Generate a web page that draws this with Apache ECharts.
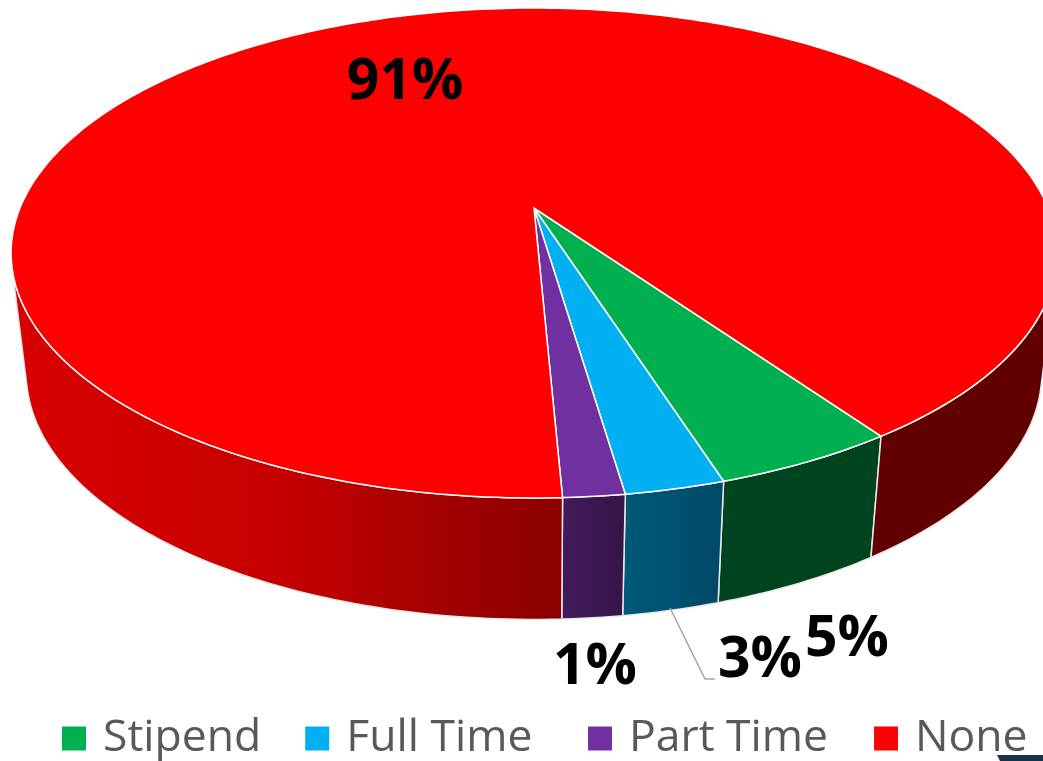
<!DOCTYPE html>
<html><head><meta charset="utf-8">
<style>html,body{margin:0;padding:0;background:#fff}#c{width:1043px;height:761px}</style>
<script src="https://cdn.jsdelivr.net/npm/echarts@6/dist/echarts.min.js"></script>
</head><body><div id="c"></div>
<script>
// Data
const categories = ['Stipend', 'Full Time', 'Part Time', 'None'];
const shares = [4.8, 2.6, 1.6, 91];          // slice sizes
const shownLabels = ['5%', '3%', '1%', '91%'];
const topColors = ['#00B050', '#00B0F0', '#7030A0', '#FF0000'];

// View of the disc
const V = {cx: 534, cy: 208, rx: 514, ry: 236.7, k: 0.1837, shrink: 0.971, ya: 1.005, yb: 328, start: 35, edge: 76};
const rad = d => d * Math.PI / 180;
function rimTop(th) {
  const u = Math.sin(rad(th)), v = Math.cos(rad(th)), w = 1 - V.k * v;
  return [V.cx + V.rx * u / w, V.cy + V.ry * v / w];
}
function rimBottom(th) {
  const p = rimTop(th);
  return [V.cx + (p[0] - V.cx) * V.shrink, (p[1] - V.cy) * V.ya + V.yb];
}
function grad(x0, x1, stops) {
  return new echarts.graphic.LinearGradient(x0, 0, x1, 0,
    stops.map((c, i) => ({offset: i / (stops.length - 1), color: c})), true);
}
const wallFill = [
  () => '#00431F',
  (a, b) => grad(a, b, ['#004A68', '#005A78']),
  (a, b) => grad(a, b, ['#351548', '#421A5C']),
  null
];
function arcPts(fn, a, b) {
  const out = [], n = Math.max(2, Math.ceil(Math.abs(b - a)));
  for (let i = 0; i <= n; i++) out.push(fn(a + (b - a) * i / n));
  return out;
}
function wall(a, b, fill) {
  return {type: 'polygon', z2: 1, shape: {points: arcPts(rimTop, a, b).concat(arcPts(rimBottom, b, a))},
    style: {fill: fill, stroke: '#E8E8E8', lineWidth: 1.5}};
}
const total = shares.reduce((s, x) => s + x, 0);
const series = categories.map((name, idx) => ({
  type: 'custom', name: name, coordinateSystem: 'none', silent: true,
  itemStyle: {color: topColors[idx]},
  data: [[shares[idx]]],
  renderItem: (params, api) => {
    let before = 0;
    for (let i = 0; i < idx; i++) before += shares[i];
    const a = V.start - before / total * 360;
    const b = a - api.value(0) / total * 360;
    const children = [];
    if (idx < 3) {
      const pa = rimBottom(a), pb = rimBottom(b);
      children.push(wall(a, b, wallFill[idx](pa[0], pb[0])));
    } else {
      children.push(wall(a, -V.edge, grad(20, 560, ['#D80000', '#C40000', '#8A0000'])));
      children.push(wall(V.edge, V.start, '#600000'));
    }
    children.push({type: 'polygon', z2: 10,
      shape: {points: [[V.cx, V.cy]].concat(arcPts(rimTop, a, b))},
      style: {fill: topColors[idx], stroke: '#FFFFFF', lineWidth: 1.5}});
    return {type: 'group', children: children};
  }
}));

const labelPos = [[847, 640], [760, 661], [595, 668], [405, 83]];
const labelFont = '"Open Sans", sans-serif';
const graphics = shownLabels.map((t, i) => ({
  type: 'text', z: 20, x: labelPos[i][0], y: labelPos[i][1],
  style: {text: t, fill: '#000', font: 'bold 57px ' + labelFont, align: 'center', verticalAlign: 'middle'}
}));
graphics.push({type: 'polyline', z: 15, shape: {points: [[670, 608], [705, 679], [715, 679]]},
  style: {stroke: '#A6A6A6', lineWidth: 1.5, fill: null}});
graphics.push({type: 'polygon', z: 15, shape: {points: [[997, 755], [1043, 755], [1043, 761], [1000, 761]]},
  style: {fill: '#17324A'}});

const legendBase = {
  top: 711, icon: 'rect', itemWidth: 24, itemHeight: 24,
  textStyle: {color: '#595959', fontSize: 44.5, fontFamily: labelFont, padding: [0, 0, 0, 12]}
};
const chart = echarts.init(document.getElementById('c'), null, {renderer: 'canvas'});
chart.setOption({
  animation: false,
  backgroundColor: '#fff',
  legend: [
    Object.assign({}, legendBase, {left: 57, itemGap: 44, data: categories.slice(0, 2)}),
    Object.assign({}, legendBase, {left: 583, itemGap: 46, data: categories.slice(2)})
  ],
  series: series,
  graphic: graphics
});
</script></body></html>
